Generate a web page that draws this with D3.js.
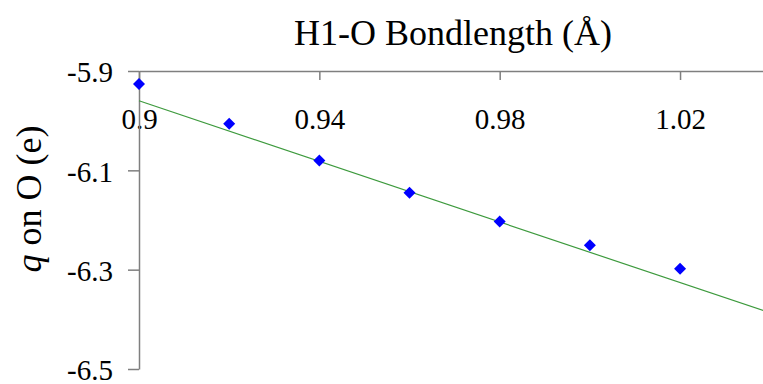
<!DOCTYPE html>
<html>
<head>
<meta charset="utf-8">
<script src="https://cdn.jsdelivr.net/npm/d3@7"></script>
<style>
  body { margin: 0; background: #fff; }
</style>
</head>
<body>
<svg id="chart" width="763" height="384"></svg>
<script>
// bond length (Å) and charge on O (e)
const bondLength = [0.90, 0.92, 0.94, 0.96, 0.98, 1.00, 1.02];
const chargeO = [-5.926, -6.006, -6.080, -6.145, -6.203, -6.251, -6.298];

// linear trendline end points
const trendX = [0.90, 1.04];
const trendY = [-5.960, -6.387];

const xTicks = [0.90, 0.94, 0.98, 1.02];
const yTicks = [-5.9, -6.1, -6.3, -6.5];

const serif = 'Liberation Serif';

const svg = d3.select('#chart');

const x = d3.scaleLinear().domain([0.9, 1.0384]).range([139, 763]);
const y = d3.scaleLinear().domain([-6.5, -5.9]).range([369, 71]);

// x axis sits on top (at y = -5.9), ticks hang into the plot
const xAxis = svg.append('g')
    .attr('transform', `translate(0,${y(-5.9)})`)
    .call(d3.axisBottom(x)
        .tickValues(xTicks)
        .tickFormat(d => d === 0.9 ? '0.9' : d.toFixed(2))
        .tickSize(9)
        .tickSizeOuter(0)
        .tickPadding(28));

const yAxis = svg.append('g')
    .attr('transform', `translate(${x(0.9)},0)`)
    .call(d3.axisLeft(y)
        .tickValues(yTicks)
        .tickFormat(d => d.toFixed(1))
        .tickSize(11)
        .tickSizeOuter(0)
        .tickPadding(15));

yAxis.selectAll('text').attr('dy', '0.37em');

svg.selectAll('.tick text')
    .attr('font-family', serif)
    .attr('font-size', 29)
    .attr('fill', '#000');

svg.selectAll('.domain, .tick line')
    .attr('stroke', '#7f7f7f')
    .attr('stroke-width', 1.5);

// trendline
svg.append('line')
    .attr('x1', x(trendX[0]))
    .attr('y1', y(trendY[0]))
    .attr('x2', x(trendX[1]))
    .attr('y2', y(trendY[1]))
    .attr('stroke', '#3d9a3d')
    .attr('stroke-width', 1.2);

// diamond markers
svg.selectAll('.pt')
    .data(bondLength.map((b, i) => ({ b, q: chargeO[i] })))
    .enter().append('path')
    .attr('class', 'pt')
    .attr('d', d3.symbol().type(d3.symbolSquare).size(72))
    .attr('transform', d => `translate(${x(d.b)},${y(d.q)}) rotate(45)`)
    .attr('fill', '#0000ff');

// titles
svg.append('text')
    .attr('x', 453)
    .attr('y', 45)
    .attr('text-anchor', 'middle')
    .attr('font-family', serif)
    .attr('font-size', 36)
    .text('H1-O Bondlength (Å)');

const yLabel = svg.append('text')
    .attr('transform', 'translate(41,199) rotate(-90)')
    .attr('text-anchor', 'middle')
    .attr('font-family', serif)
    .attr('font-size', 36);
yLabel.append('tspan').attr('font-style', 'italic').text('q');
yLabel.append('tspan').text(' on O (e)');
</script>
</body>
</html>
